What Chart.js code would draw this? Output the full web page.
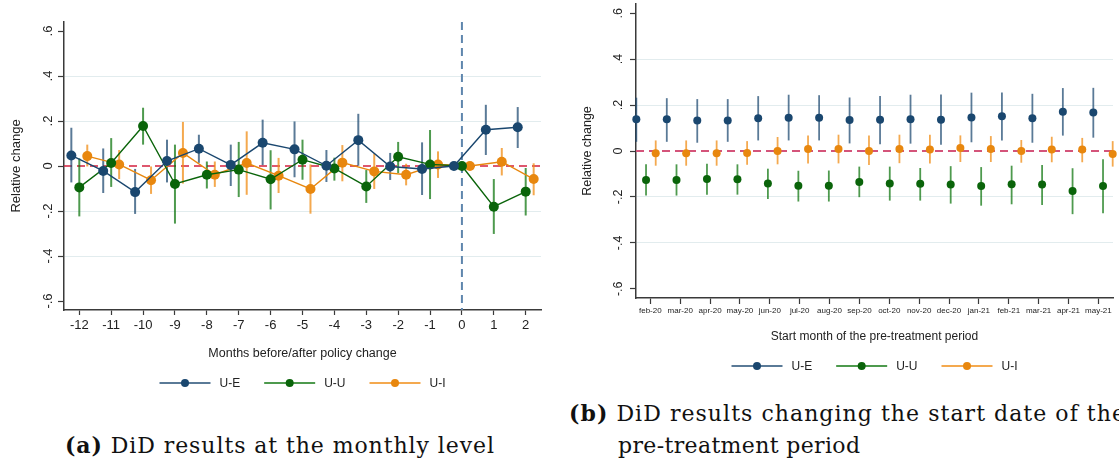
<!DOCTYPE html>
<html>
<head>
<meta charset="utf-8">
<script src="https://cdn.jsdelivr.net/npm/chart.js@4.4.1/dist/chart.umd.min.js"></script>
<style>
  body { margin: 0; background: #fff; width: 1119px; height: 466px; overflow: hidden; position: relative; }
  canvas { position: absolute; top: 0; }
  #chartA { left: 0; }
  #chartB { left: 560px; }
  .cap { position: absolute; font-family: "DejaVu Serif", "Liberation Serif", serif; font-size: 22px;
         color: #111; white-space: nowrap; line-height: 1; }
  .cap b { font-weight: bold; }
</style>
</head>
<body>
<canvas id="chartA" width="560" height="400"></canvas>
<canvas id="chartB" width="559" height="380"></canvas>
<div class="cap" id="capA" style="left:65px; top:434px;" data-w="429"><b>(a)</b> DiD results at the monthly level</div>
<div class="cap" id="capB1" style="left:569px; top:402px;" data-w="556"><b>(b)</b> DiD results changing the start date of the</div>
<div class="cap" id="capB2" style="left:618px; top:435px;" data-w="242">pre-treatment period</div>
<script>
// ---- monthly event study: months relative to the policy change
const monthsA = [-12, -11, -10, -9, -8, -7, -6, -5, -4, -3, -2, -1, 0, 1, 2];

const ueA   = [0.047, -0.022, -0.116, 0.022, 0.077, 0.005, 0.103, 0.074, 0.001, 0.115, -0.002, -0.013, 0, 0.161, 0.172];
const ueALo = [-0.073, -0.12, -0.213, -0.073, 0.014, -0.089, 0.004, -0.05, -0.071, 0.001, -0.062, -0.129, null, 0.049, 0.08];
const ueAHi = [0.17, 0.078, -0.013, 0.117, 0.139, 0.095, 0.206, 0.198, 0.071, 0.232, 0.058, 0.105, null, 0.272, 0.262];

const uuA   = [-0.095, 0.013, 0.178, -0.08, -0.039, -0.016, -0.059, 0.028, -0.011, -0.091, 0.041, 0.007, 0, -0.181, -0.114];
const uuALo = [-0.224, -0.093, 0.095, -0.256, -0.1, -0.138, -0.193, -0.061, -0.065, -0.164, -0.031, -0.147, null, -0.302, -0.22];
const uuAHi = [0.034, 0.124, 0.259, 0.095, 0.02, 0.107, 0.07, 0.117, 0.037, -0.018, 0.107, 0.16, null, -0.058, -0.009];

const uiA   = [0.044, 0.007, -0.063, 0.058, -0.039, 0.013, -0.043, -0.102, 0.015, -0.024, -0.039, 0.007, 0, 0.019, -0.058];
const uiALo = [-0.002, -0.058, -0.124, -0.078, -0.093, -0.128, -0.12, -0.212, -0.068, -0.102, -0.086, -0.053, null, -0.042, -0.13];
const uiAHi = [0.095, 0.071, -0.002, 0.196, 0.02, 0.154, 0.036, 0.007, 0.093, 0.055, 0.01, 0.065, null, 0.08, 0.012];

// ---- robustness: start month of the pre-treatment window
const monthLabels = ['feb-20', 'mar-20', 'apr-20', 'may-20', 'jun-20', 'jul-20', 'aug-20', 'sep-20',
                     'oct-20', 'nov-20', 'dec-20', 'jan-21', 'feb-21', 'mar-21', 'apr-21', 'may-21'];

const ueB   = [0.138, 0.138, 0.133, 0.133, 0.143, 0.145, 0.145, 0.135, 0.136, 0.138, 0.136, 0.146, 0.151, 0.143, 0.171, 0.168];
const ueBLo = [0.04, 0.04, 0.036, 0.04, 0.046, 0.046, 0.046, 0.033, 0.029, 0.032, 0.027, 0.038, 0.046, 0.036, 0.067, 0.058];
const ueBHi = [0.232, 0.23, 0.226, 0.226, 0.239, 0.245, 0.243, 0.233, 0.24, 0.245, 0.246, 0.254, 0.255, 0.249, 0.274, 0.275];

const uuB   = [-0.126, -0.126, -0.122, -0.123, -0.141, -0.151, -0.151, -0.135, -0.142, -0.143, -0.146, -0.152, -0.145, -0.146, -0.174, -0.152];
const uuBLo = [-0.194, -0.194, -0.19, -0.19, -0.209, -0.22, -0.22, -0.201, -0.216, -0.216, -0.229, -0.238, -0.232, -0.235, -0.275, -0.271];
const uuBHi = [-0.058, -0.058, -0.055, -0.058, -0.077, -0.086, -0.085, -0.068, -0.068, -0.074, -0.066, -0.07, -0.064, -0.061, -0.075, -0.036];

const uiB   = [-0.01, -0.01, -0.01, -0.009, 0, 0.009, 0.009, 0, 0.009, 0.006, 0.013, 0.009, 0, 0.006, 0.006, -0.013];
const uiBLo = [-0.064, -0.064, -0.064, -0.06, -0.058, -0.054, -0.054, -0.061, -0.053, -0.054, -0.048, -0.048, -0.051, -0.049, -0.049, -0.068];
const uiBHi = [0.046, 0.046, 0.046, 0.043, 0.061, 0.068, 0.071, 0.068, 0.071, 0.071, 0.068, 0.065, 0.048, 0.062, 0.057, 0.043];

const seriesNames = ['U-E', 'U-U', 'U-I'];
const yTicks = [-0.6, -0.4, -0.2, 0, 0.2, 0.4, 0.6];
const gridAt = [-0.4, -0.2, 0.2, 0.4];

const dotColors = ['#1a476f', '#0a640a', '#e8870e'];
const barColors = ['rgba(26,71,111,0.72)', 'rgba(10,115,10,0.72)', 'rgba(240,140,20,0.75)'];
const sans = '"Liberation Sans", Arial, sans-serif';
const axisColor = '#3a3a3a';

// Stata style labels: .6, .4, 0, -.2 ...
function stataLabel(v) {
  if (Math.abs(v) < 1e-9) return '0';
  return (v < 0 ? '-' : '') + Math.abs(v).toFixed(1).replace(/^0/, '');
}

// zero line, event line, CI spikes, rotated y labels and the legend
function extras(opts) {
  return {
    id: 'extras',
    beforeDatasetsDraw(chart) {
      const { ctx, chartArea: a, scales: { x, y } } = chart;
      ctx.save();
      ctx.setLineDash([8, 5]);
      ctx.strokeStyle = opts.zeroColor;
      ctx.lineWidth = opts.zeroWidth;
      const y0 = y.getPixelForValue(0);
      ctx.beginPath(); ctx.moveTo(a.left, y0); ctx.lineTo(a.right, y0); ctx.stroke();
      if (opts.eventAt !== undefined) {
        const xe = x.getPixelForValue(opts.eventAt);
        ctx.strokeStyle = '#5f86ad';
        ctx.lineWidth = 2;
        ctx.setLineDash([8, 5]);
        ctx.beginPath(); ctx.moveTo(xe, a.top); ctx.lineTo(xe, a.bottom); ctx.stroke();
      }
      ctx.setLineDash([]);
      chart.data.datasets.forEach((ds, i) => {
        const meta = chart.getDatasetMeta(i);
        ctx.strokeStyle = barColors[i];
        ctx.lineWidth = opts.barWidth;
        ds.lo.forEach((lo, j) => {
          if (lo === null) return;
          const px = meta.data[j].x;
          ctx.beginPath();
          ctx.moveTo(px, y.getPixelForValue(lo));
          ctx.lineTo(px, y.getPixelForValue(ds.hi[j]));
          ctx.stroke();
        });
      });
      ctx.restore();
    },
    afterDraw(chart) {
      const { ctx, chartArea: a, scales: { y } } = chart;
      ctx.save();
      ctx.font = opts.yTickFont;
      ctx.fillStyle = '#222';
      ctx.textAlign = 'center';
      ctx.textBaseline = 'middle';
      yTicks.forEach(v => {
        ctx.save();
        ctx.translate(a.left - opts.yLabelGap, y.getPixelForValue(v));
        ctx.rotate(-Math.PI / 2);
        ctx.fillText(stataLabel(v), 0, 0);
        ctx.restore();
      });

      // legend
      ctx.font = '12px ' + sans;
      const lineW = 51, gapT = 9, gapI = 24;
      const widths = seriesNames.map(s => ctx.measureText(s).width);
      const total = widths.reduce((s, w) => s + lineW + gapT + w, 0) + gapI * (seriesNames.length - 1);
      let lx = (a.left + a.right) / 2 - total / 2;
      const ly = opts.legendY;
      seriesNames.forEach((name, i) => {
        ctx.strokeStyle = barColors[i];
        ctx.lineWidth = 2;
        ctx.beginPath(); ctx.moveTo(lx, ly); ctx.lineTo(lx + lineW, ly); ctx.stroke();
        ctx.fillStyle = dotColors[i];
        ctx.beginPath(); ctx.arc(lx + lineW / 2, ly, 4, 0, Math.PI * 2); ctx.fill();
        ctx.fillStyle = '#222';
        ctx.textAlign = 'left';
        ctx.fillText(name, lx + lineW + gapT, ly + 0.5);
        lx += lineW + gapT + widths[i] + gapI;
      });
      ctx.restore();
    }
  };
}

function yAxis(width, titleSize) {
  return {
    min: -0.64, max: 0.64,
    afterBuildTicks: s => { s.ticks = yTicks.map(v => ({ value: v })); },
    afterFit: s => { s.width = width; },
    ticks: { display: false },
    grid: {
      color: c => gridAt.some(g => Math.abs(g - c.tick.value) < 1e-6) ? '#e2ecee' : 'rgba(0,0,0,0)',
      lineWidth: 1, tickLength: 6, tickColor: axisColor, tickWidth: 1.2
    },
    border: { color: axisColor, width: 1.5 },
    title: { display: true, text: 'Relative change', color: '#222',
             font: { family: sans, size: titleSize }, padding: { top: 3, bottom: 0 } }
  };
}

// panel (a)
const shiftsA = [-0.25, 0, 0.25];
new Chart(document.getElementById('chartA'), {
  type: 'line',
  data: {
    datasets: [[ueA, ueALo, ueAHi], [uuA, uuALo, uuAHi], [uiA, uiALo, uiAHi]].map(([v, lo, hi], k) => ({
      label: seriesNames[k],
      data: monthsA.map((m, j) => ({ x: m + shiftsA[k], y: v[j] })),
      lo, hi,
      borderColor: dotColors[k],
      borderWidth: 1.4,
      pointRadius: 5,
      pointBorderWidth: 0,
      pointBackgroundColor: dotColors[k],
      tension: 0,
      clip: false
    }))
  },
  options: {
    responsive: false,
    animation: false,
    layout: { padding: { left: 6, top: 22, right: 19, bottom: 35 } },
    plugins: { legend: { display: false }, tooltip: { enabled: false } },
    scales: {
      x: {
        type: 'linear', min: -12.48, max: 2.48,
        afterBuildTicks: s => { s.ticks = monthsA.map(v => ({ value: v })); },
        afterFit: s => { s.height = 55; },
        ticks: { font: { family: sans, size: 13 }, color: '#222', padding: 3, maxRotation: 0, autoSkip: false },
        grid: { drawOnChartArea: false, tickLength: 5, tickColor: axisColor, tickWidth: 1.2 },
        border: { color: axisColor, width: 1.5 },
        title: { display: true, text: 'Months before/after policy change', color: '#222',
                 font: { family: sans, size: 12.5 }, padding: { top: 0, bottom: 4 } }
      },
      y: yAxis(58, 13)
    }
  },
  plugins: [extras({ zeroColor: '#d4213f', zeroWidth: 1.6, eventAt: 0, barWidth: 2,
                     yTickFont: '13px ' + sans, yLabelGap: 15.5, legendY: 383 })]
});

// panel (b): estimates sit slightly off the month ticks, spaced a little wider
const dotStep = 1.02;
const shiftsB = [-0.469, -0.144, 0.18];
new Chart(document.getElementById('chartB'), {
  type: 'line',
  data: {
    datasets: [[ueB, ueBLo, ueBHi], [uuB, uuBLo, uuBHi], [uiB, uiBLo, uiBHi]].map(([v, lo, hi], k) => ({
      label: seriesNames[k],
      data: monthLabels.map((m, j) => ({ x: j * dotStep + shiftsB[k], y: v[j] })),
      lo, hi,
      showLine: false,
      pointRadius: 4,
      pointBorderWidth: 0,
      pointBackgroundColor: dotColors[k],
      clip: false
    }))
  },
  options: {
    responsive: false,
    animation: false,
    layout: { padding: { left: 17, top: 4, right: 6, bottom: 32 } },
    plugins: { legend: { display: false }, tooltip: { enabled: false } },
    scales: {
      x: {
        type: 'linear', min: -0.48, max: 15.49,
        afterBuildTicks: s => { s.ticks = monthLabels.map((m, i) => ({ value: i })); },
        afterFit: s => { s.height = 50; },
        ticks: { callback: (v, i) => monthLabels[i], font: { family: sans, size: 8 }, color: '#222',
                 padding: 2, maxRotation: 0, autoSkip: false },
        grid: { drawOnChartArea: false, tickLength: 6, tickColor: axisColor, tickWidth: 1.2 },
        border: { color: axisColor, width: 1.5 },
        title: { display: true, text: 'Start month of the pre-treatment period', color: '#222',
                 font: { family: sans, size: 12 }, padding: { top: 0, bottom: 4 } }
      },
      y: yAxis(59, 12.5)
    }
  },
  plugins: [extras({ zeroColor: '#d4547a', zeroWidth: 2, barWidth: 1.8,
                     yTickFont: '12.5px ' + sans, yLabelGap: 17.5, legendY: 366 })]
});

// stretch caption lines to their set widths
document.querySelectorAll('.cap').forEach(el => {
  const natural = el.getBoundingClientRect().width;
  const n = el.textContent.length;
  el.style.letterSpacing = ((+el.dataset.w - natural) / (n - 1)) + 'px';
});
</script>
</body>
</html>
